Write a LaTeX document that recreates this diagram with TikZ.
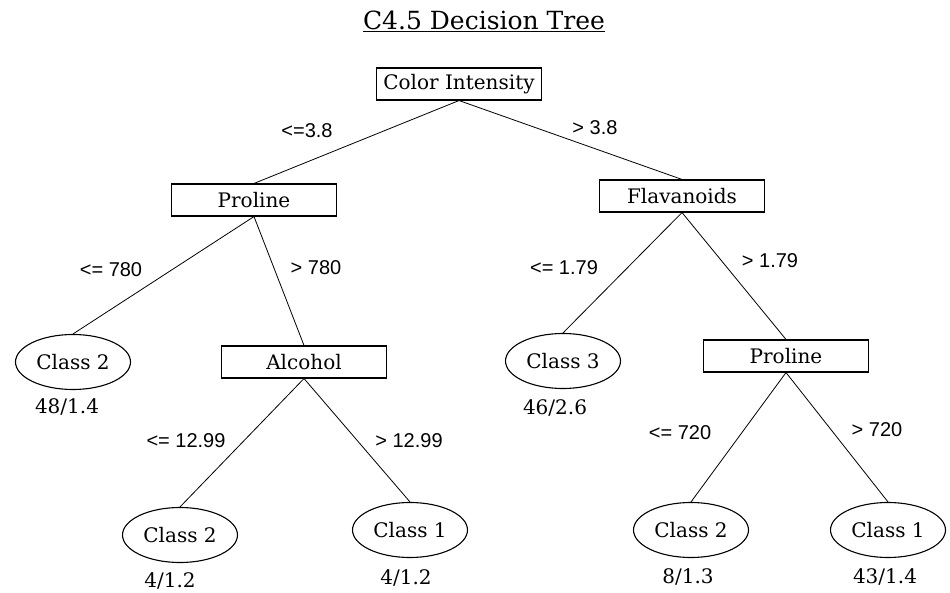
\documentclass[tikz,border=0pt]{standalone}
\usepackage{fontspec}
\setmainfont{DejaVu Serif}
\newfontfamily\condfont{Liberation Sans}
\usetikzlibrary{shapes.geometric}
\begin{document}
\begin{tikzpicture}[x=1pt,y=-1pt,
    attr/.style={draw,shape=rectangle,line width=1.1pt,minimum width=165pt,minimum height=32pt,inner sep=0pt,font=\fontsize{20}{23}\selectfont},
    leaf/.style={draw,shape=ellipse,line width=1.1pt,minimum width=115pt,minimum height=55pt,inner sep=0pt,font=\fontsize{20}{23}\selectfont},
    cond/.style={font=\condfont\fontsize{20}{23}\selectfont},
    count/.style={font=\fontsize{20}{23}\selectfont}]
  \useasboundingbox (0,0) rectangle (950,593);
  \node[font=\fontsize{25}{29}\selectfont] (title) at (484,21) {\underline{C4.5 Decision Tree}};
  % attribute tests
  \node[attr] (color)    at (459,84)  {Color Intensity};
  \node[attr] (proline1) at (254,200) {Proline};
  \node[attr] (flav)     at (682,196) {Flavanoids};
  \node[attr] (alcohol)  at (304,362) {Alcohol};
  \node[attr] (proline2) at (786,356) {Proline};
  % leaves
  \node[leaf] (c2a) at (73,362)  {Class 2};
  \node[leaf] (c3)  at (563,361) {Class 3};
  \node[leaf] (c2b) at (180,535) {Class 2};
  \node[leaf] (c1a) at (410,530) {Class 1};
  \node[leaf] (c2c) at (691,530) {Class 2};
  \node[leaf] (c1b) at (888,530) {Class 1};
  \node[count] (n2a) at (67,407)  {48/1.4};
  \node[count] (n3)  at (555,408) {46/2.6};
  \node[count] (n2b) at (170,581) {4/1.2};
  \node[count] (n1a) at (406,578) {4/1.2};
  \node[count] (n2c) at (688,577) {8/1.3};
  \node[count] (n1b) at (885,577) {43/1.4};
  % split values
  \node[cond] (s1) at (307,131) {<=3.8};
  \node[cond] (s2) at (595,128) {> 3.8};
  \node[cond] (s3) at (111,270) {<= 780};
  \node[cond] (s4) at (316,268) {> 780};
  \node[cond] (s5) at (564,268) {<= 1.79};
  \node[cond] (s6) at (770,261) {> 1.79};
  \node[cond] (s7) at (186,441) {<= 12.99};
  \node[cond] (s8) at (409,441) {> 12.99};
  \node[cond] (s9) at (680,433) {<= 720};
  \node[cond] (s10) at (877,430) {> 720};
  \path[line width=0.8pt] (color.south)    edge (proline1.north);
  \path[line width=0.8pt] (color.south)    edge (flav.north);
  \path[line width=0.8pt] (proline1.south) edge (c2a.north);
  \path[line width=0.8pt] (proline1.south) edge (alcohol.north);
  \path[line width=0.8pt] (alcohol.south)  edge (c2b.north);
  \path[line width=0.8pt] (alcohol.south)  edge (c1a.north);
  \path[line width=0.8pt] (flav.south)     edge (c3.north);
  \path[line width=0.8pt] (flav.south)     edge (proline2.north);
  \path[line width=0.8pt] (proline2.south) edge (c2c.north);
  \path[line width=0.8pt] (proline2.south) edge (c1b.north);
\end{tikzpicture}
\end{document}
